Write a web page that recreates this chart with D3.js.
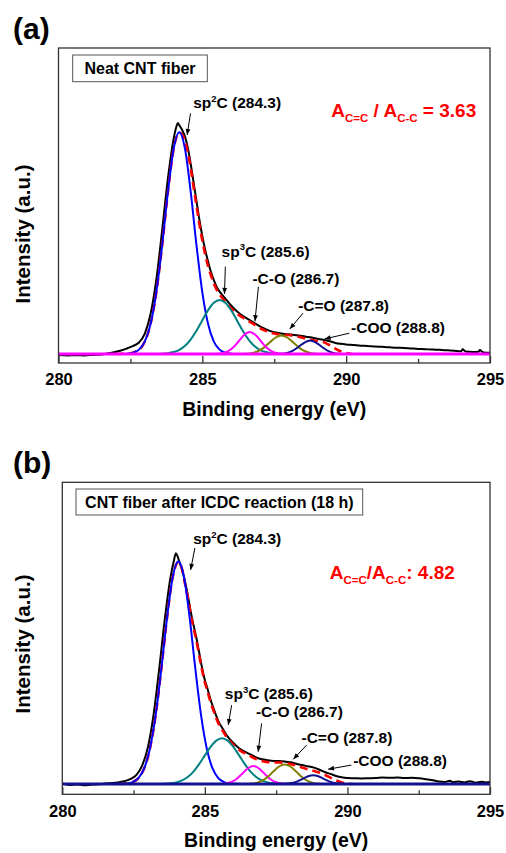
<!DOCTYPE html>
<html><head><meta charset="utf-8">
<script src="https://cdn.jsdelivr.net/npm/d3@7"></script>
<style>html,body{margin:0;padding:0;background:#fff;}svg{display:block;}</style>
</head><body>
<svg id="chart" width="506" height="853"></svg>
<script>
// ================= DATA =================
const xTickValues = [280, 285, 290, 295];
const xTickLabels = ["280", "285", "290", "295"];
const xMinorTicks = [282.5, 287.5, 292.5];
const xAxisTitle = "Binding energy (eV)";
const yAxisTitle = "Intensity (a.u.)";
const baselineE = [280, 295];

// ---------- panel (a): Neat CNT fiber ----------
const aTitle = "Neat CNT fiber";
const aRatio = [["A"], ["C=C", "sub"], [" / A"], ["C-C", "sub"], [" = 3.63"]];
const aMeasured = [[280.0,-0.004],[280.3,-0.006],[280.6,-0.005],[280.9,-0.006],[281.2,-0.004],[281.5,-0.002],[281.8,0.004],[282.0,0.01],[282.2,0.016],[282.4,0.025],[282.6,0.035],[282.8,0.05],[283.0,0.088],[283.2,0.173],[283.4,0.322],[283.6,0.532],[283.8,0.756],[284.0,0.93],[284.1,0.985],[284.15,1.0],[284.2,0.99],[284.3,0.97],[284.4,0.94],[284.5,0.89],[284.6,0.82],[284.7,0.74],[284.8,0.66],[284.9,0.58],[285.0,0.51],[285.1,0.45],[285.2,0.4],[285.3,0.355],[285.4,0.32],[285.5,0.29],[285.6,0.27],[285.8,0.24],[286.0,0.21],[286.2,0.185],[286.4,0.165],[286.6,0.15],[286.8,0.135],[287.0,0.12],[287.2,0.108],[287.4,0.098],[287.6,0.092],[287.8,0.088],[288.0,0.085],[288.2,0.082],[288.4,0.079],[288.6,0.075],[288.8,0.071],[289.0,0.066],[289.2,0.062],[289.4,0.056],[289.6,0.049],[289.8,0.044],[290.0,0.041],[290.25,0.039],[290.5,0.036],[290.75,0.035],[291.0,0.032],[291.25,0.031],[291.5,0.029],[291.75,0.027],[292.0,0.026],[292.25,0.024],[292.5,0.022],[292.75,0.021],[293.0,0.019],[293.25,0.018],[293.5,0.016],[293.75,0.014],[294.0,0.012],[294.05,0.02],[294.15,0.011],[294.4,0.009],[294.6,0.01],[294.65,0.017],[294.75,0.008],[295.0,0.005]];
const aFit = [[282.0,0],[282.4,0.0015],[282.8,0.019],[283.0,0.054],[283.2,0.13],[283.4,0.267],[283.6,0.467],[283.8,0.697],[284.0,0.886],[284.1,0.94],[284.2,0.958],[284.3,0.95],[284.4,0.92],[284.5,0.87],[284.6,0.8],[284.7,0.72],[284.8,0.64],[284.9,0.56],[285.0,0.49],[285.1,0.43],[285.2,0.38],[285.3,0.34],[285.4,0.305],[285.5,0.278],[285.6,0.258],[285.8,0.226],[286.0,0.198],[286.2,0.175],[286.4,0.158],[286.6,0.143],[286.8,0.128],[287.0,0.112],[287.2,0.1],[287.4,0.091],[287.6,0.086],[287.8,0.084],[288.0,0.082],[288.2,0.078],[288.4,0.073],[288.6,0.066],[288.8,0.06],[289.0,0.056],[289.2,0.052],[289.4,0.04],[289.6,0.025],[289.8,0.012],[290.0,0.004],[290.2,0]];
const aSp2C = [[282.0,0],[282.2,0.0003],[282.4,0.0015],[282.6,0.0057],[282.8,0.019],[283.0,0.0539],[283.2,0.1299],[283.4,0.2669],[283.6,0.4673],[283.8,0.6971],[284.0,0.8862],[284.2,0.96],[284.4,0.8862],[284.6,0.6971],[284.8,0.4673],[285.0,0.2669],[285.2,0.1299],[285.4,0.0539],[285.6,0.019],[285.8,0.0057],[286.0,0.0015],[286.2,0.0003],[286.4,0]];
const aSp3C = [[283.2,0],[283.4,0.0004],[283.6,0.0013],[283.8,0.0035],[284.0,0.0084],[284.2,0.0183],[284.4,0.036],[284.6,0.0637],[284.8,0.1018],[285.0,0.1465],[285.2,0.19],[285.4,0.2221],[285.6,0.234],[285.8,0.2221],[286.0,0.19],[286.2,0.1465],[286.4,0.1018],[286.6,0.0637],[286.8,0.036],[287.0,0.0183],[287.2,0.0084],[287.4,0.0035],[287.6,0.0013],[287.8,0.0004],[288.0,0]];
const aCO = [[285.25,0],[285.45,0.0005],[285.65,0.0025],[285.85,0.0092],[286.05,0.0255],[286.25,0.053],[286.45,0.0821],[286.65,0.095],[286.85,0.0821],[287.05,0.053],[287.25,0.0255],[287.45,0.0092],[287.65,0.0025],[287.85,0.0005],[288.05,0]];
const aCdO = [[286.15,0],[286.35,0.0003],[286.55,0.0014],[286.75,0.0047],[286.95,0.013],[287.15,0.0288],[287.35,0.0508],[287.55,0.0714],[287.75,0.08],[287.95,0.0714],[288.15,0.0508],[288.35,0.0288],[288.55,0.013],[288.75,0.0047],[288.95,0.0014],[289.15,0.0003],[289.35,0]];
const aCOO = [[287.35,0],[287.55,0.0002],[287.75,0.0012],[287.95,0.0049],[288.15,0.0145],[288.35,0.0313],[288.55,0.0497],[288.75,0.058],[288.95,0.0497],[289.15,0.0313],[289.35,0.0145],[289.55,0.0049],[289.75,0.0012],[289.95,0.0002],[290.15,0]];
// annotation text and the data points they refer to (energy, intensity)
const aNotes = [
  {parts: [["sp"], ["2", "sup"], ["C (284.3)"]], at: [284.68, 1.063], from: [284.59, 1.042], to: [284.47, 0.948]},
  {parts: [["sp"], ["3", "sup"], ["C (285.6)"]], at: [285.67, 0.42], from: [285.8, 0.378], to: [285.77, 0.26]},
  {parts: [["-C-O (286.7)"]], at: [286.74, 0.301], from: [286.95, 0.291], to: [286.83, 0.142]},
  {parts: [["-C=O (287.8)"]], at: [288.33, 0.188], from: [288.5, 0.177], to: [288.04, 0.108]},
  {parts: [["-COO (288.8)"]], at: [290.17, 0.091], from: [290.11, 0.09], to: [289.25, 0.065]}
];

// ---------- panel (b): CNT fiber after ICDC reaction ----------
const bTitle = "CNT fiber after ICDC reaction (18 h)";
const bRatio = [["A"], ["C=C", "sub"], ["/A"], ["C-C", "sub"], [": 4.82"]];
const bMeasured = [[280.0,0.003],[280.25,-0.004],[280.5,-0.002],[280.75,-0.005],[281.0,-0.003],[281.25,-0.001],[281.5,0.002],[281.75,0.004],[282.0,0.008],[282.2,0.013],[282.4,0.022],[282.6,0.04],[282.8,0.08],[283.0,0.158],[283.2,0.3],[283.4,0.5],[283.6,0.72],[283.8,0.9],[283.9,0.96],[283.985,1.0],[284.05,0.985],[284.1,0.965],[284.2,0.93],[284.3,0.88],[284.4,0.82],[284.5,0.75],[284.6,0.69],[284.7,0.635],[284.8,0.57],[284.9,0.505],[285.0,0.45],[285.1,0.41],[285.2,0.365],[285.3,0.33],[285.4,0.295],[285.5,0.265],[285.6,0.245],[285.8,0.205],[286.0,0.178],[286.2,0.155],[286.4,0.14],[286.6,0.128],[286.8,0.115],[287.0,0.107],[287.2,0.103],[287.4,0.1],[287.6,0.1],[287.8,0.098],[288.0,0.094],[288.2,0.088],[288.4,0.082],[288.6,0.077],[288.8,0.072],[289.0,0.063],[289.2,0.052],[289.4,0.044],[289.6,0.035],[289.8,0.029],[290.0,0.026],[290.25,0.025],[290.5,0.024],[290.75,0.025],[291.0,0.026],[291.25,0.028],[291.5,0.027],[291.75,0.028],[292.0,0.026],[292.25,0.027],[292.5,0.025],[292.75,0.021],[293.0,0.016],[293.2,0.011],[293.4,0.009],[293.6,0.014],[293.7,0.008],[293.9,0.011],[294.1,0.007],[294.3,0.012],[294.5,0.006],[294.7,0.01],[294.85,0.007],[295.0,0.009]];
const bFit = [[282.0,0],[282.47,0.0085],[282.87,0.0673],[283.07,0.1517],[283.27,0.2952],[283.47,0.4954],[283.67,0.7171],[283.87,0.8953],[284.07,0.962],[284.2,0.93],[284.3,0.87],[284.4,0.81],[284.5,0.738],[284.6,0.677],[284.7,0.622],[284.8,0.558],[284.9,0.494],[285.0,0.44],[285.1,0.398],[285.2,0.354],[285.3,0.319],[285.4,0.285],[285.5,0.256],[285.6,0.236],[285.8,0.197],[286.0,0.17],[286.2,0.148],[286.4,0.133],[286.6,0.12],[286.8,0.108],[287.0,0.1],[287.2,0.095],[287.4,0.093],[287.6,0.093],[287.8,0.092],[288.0,0.087],[288.2,0.08],[288.4,0.072],[288.6,0.064],[288.8,0.058],[289.0,0.05],[289.2,0.04],[289.4,0.028],[289.6,0.016],[289.8,0.007],[290.0,0.002],[290.2,0]];
const bSp2C = [[281.87,0],[282.07,0.0006],[282.27,0.0024],[282.47,0.0085],[282.67,0.0257],[282.87,0.0673],[283.07,0.1517],[283.27,0.2952],[283.47,0.4954],[283.67,0.7171],[283.87,0.8953],[284.07,0.964],[284.27,0.8953],[284.47,0.7171],[284.67,0.4954],[284.87,0.2952],[285.07,0.1517],[285.27,0.0673],[285.47,0.0257],[285.67,0.0085],[285.87,0.0024],[286.07,0.0006],[286.27,0]];
const bSp3C = [[283.2,0],[283.4,0.0004],[283.6,0.0011],[283.8,0.0029],[284.0,0.0071],[284.2,0.0155],[284.4,0.0304],[284.6,0.0539],[284.8,0.0861],[285.0,0.124],[285.2,0.1608],[285.4,0.188],[285.6,0.198],[285.8,0.188],[286.0,0.1608],[286.2,0.124],[286.4,0.0861],[286.6,0.0539],[286.8,0.0304],[287.0,0.0155],[287.2,0.0071],[287.4,0.0029],[287.6,0.0011],[287.8,0.0004],[288.0,0]];
const bCO = [[285.3,0],[285.5,0.0004],[285.7,0.002],[285.9,0.0075],[286.1,0.0209],[286.3,0.0435],[286.5,0.0674],[286.7,0.078],[286.9,0.0674],[287.1,0.0435],[287.3,0.0209],[287.5,0.0075],[287.7,0.002],[287.9,0.0004],[288.1,0]];
const bCdO = [[286.2,0],[286.4,0.0003],[286.6,0.0014],[286.8,0.005],[287.0,0.0139],[287.2,0.0306],[287.4,0.054],[287.6,0.0759],[287.8,0.085],[288.0,0.0759],[288.2,0.054],[288.4,0.0306],[288.6,0.0139],[288.8,0.005],[289.0,0.0014],[289.2,0.0003],[289.4,0]];
const bCOO = [[287.4,0],[287.6,0.0001],[287.8,0.0008],[288.0,0.0032],[288.2,0.0095],[288.4,0.0205],[288.6,0.0326],[288.8,0.038],[289.0,0.0326],[289.2,0.0205],[289.4,0.0095],[289.6,0.0032],[289.8,0.0008],[290.0,0.0001],[290.2,0]];
const bNotes = [
  {parts: [["sp"], ["2", "sup"], ["C (284.3)"]], at: [284.59, 1.04], from: [284.65, 1.023], to: [284.5, 0.928]},
  {parts: [["sp"], ["3", "sup"], ["C (285.6)"]], at: [285.7, 0.368], from: [285.94, 0.342], to: [285.82, 0.256]},
  {parts: [["-C-O (286.7)"]], at: [286.79, 0.29], from: [286.99, 0.263], to: [286.87, 0.14]},
  {parts: [["-C=O (287.8)"]], at: [288.39, 0.178], from: [288.57, 0.169], to: [288.1, 0.107]},
  {parts: [["-COO (288.8)"]], at: [290.2, 0.08], from: [290.14, 0.082], to: [289.32, 0.064]}
];

// ================= STYLE / LAYOUT =================
const C = {black: "#000000", red: "#ff0000", blue: "#0000ff", teal: "#008080",
           magenta: "#ff00ff", olive: "#808000", navy: "#101090", frame: "#333333"};
const FONT = "'Liberation Sans', Arial, Helvetica, sans-serif";

const panels = [
  {letter: "(a)", letterXY: [13, 38.5], yTitleY: 234,
   frame: {l: 58.5, t: 48, r: 490, b: 363}, yDomain: [-0.039, 1.3247],
   box: {x: 72.7, y: 55, w: 134.6, h: 26.7, ty: 74.3, size: 16},
   title: aTitle, ratio: aRatio, ratioAt: [289.48, 1.025],
   measured: aMeasured, fit: aFit, notes: aNotes,
   comps: [[aSp2C, C.blue], [aSp3C, C.teal], [aCdO, C.olive], [aCOO, C.navy], [aCO, C.magenta]],
   baseColor: C.magenta},
  {letter: "(b)", letterXY: [13, 473], yTitleY: 644,
   frame: {l: 62.3, t: 482.3, r: 490, b: 794.3}, yDomain: [-0.0446, 1.3078],
   box: {x: 76, y: 489, w: 286.7, h: 26, ty: 508.2, size: 16},
   title: bTitle, ratio: bRatio, ratioAt: [289.38, 0.889],
   measured: bMeasured, fit: bFit, notes: bNotes,
   comps: [[bSp2C, C.blue], [bSp3C, C.teal], [bCO, C.magenta], [bCdO, C.olive], [bCOO, C.navy]],
   baseColor: C.navy}
];

const svg = d3.select("#chart").style("font-family", FONT);
svg.append("defs").append("marker")
  .attr("id", "arrowhead").attr("viewBox", "0 0 10 10")
  .attr("refX", 10).attr("refY", 5)
  .attr("markerWidth", 7).attr("markerHeight", 6)
  .attr("markerUnits", "userSpaceOnUse").attr("orient", "auto")
  .append("path").attr("d", "M0,1 L10,5 L0,9 Z").attr("fill", "#000");

function rich(textSel, parts, base, subSize, supSize) {
  let shift = 0;
  parts.forEach(p => {
    const kind = p[1];
    let target = 0, size = base;
    if (kind === "sub") { target = subSize * 0.45; size = subSize; }
    if (kind === "sup") { target = -base * 0.42; size = supSize; }
    textSel.append("tspan").attr("dy", target - shift).attr("font-size", size).text(p[0]);
    shift = target;
  });
}

panels.forEach((P, pi) => {
  const f = P.frame;
  const x = d3.scaleLinear().domain([280, 295]).range([f.l, f.r]);
  const y = d3.scaleLinear().domain(P.yDomain).range([f.b, f.t]);
  const g = svg.append("g");

  const clipId = "clip" + pi;
  svg.select("defs").append("clipPath").attr("id", clipId)
    .append("rect").attr("x", f.l).attr("y", f.t).attr("width", f.r - f.l).attr("height", f.b - f.t);
  const plot = g.append("g").attr("clip-path", `url(#${clipId})`);

  const line = d3.line().x(d => x(d[0])).y(d => y(d[1])).curve(d3.curveMonotoneX);

  plot.append("path").datum(P.measured).attr("d", line)
    .attr("fill", "none").attr("stroke", C.black).attr("stroke-width", 2).attr("stroke-linejoin", "round");
  plot.append("path").datum(P.fit).attr("d", line)
    .attr("fill", "none").attr("stroke", C.red).attr("stroke-width", 2.6).attr("stroke-dasharray", "8,5");
  P.comps.forEach(([pts, col]) => {
    plot.append("path").datum(pts).attr("d", line)
      .attr("fill", "none").attr("stroke", col).attr("stroke-width", 2);
  });
  plot.append("path").datum(baselineE.map(e => [e, 0])).attr("d", d3.line().x(d => x(d[0])).y(d => y(d[1])))
    .attr("fill", "none").attr("stroke", P.baseColor).attr("stroke-width", 3);

  g.append("rect").attr("x", f.l).attr("y", f.t).attr("width", f.r - f.l).attr("height", f.b - f.t)
    .attr("fill", "none").attr("stroke", C.frame).attr("stroke-width", 1.3);

  const ax = g.append("g").attr("transform", `translate(0,${f.b})`)
    .call(d3.axisBottom(x).tickValues(xTickValues).tickSize(-7).tickPadding(10.5)
      .tickFormat((d, i) => xTickLabels[i]));
  ax.select(".domain").remove();
  ax.selectAll(".tick line").attr("stroke", C.frame).attr("stroke-width", 1.3);
  ax.selectAll(".tick text").attr("font-family", FONT).attr("font-size", 16.5)
    .attr("font-weight", "bold").attr("fill", "#000");
  const axm = g.append("g").attr("transform", `translate(0,${f.b})`)
    .call(d3.axisBottom(x).tickValues(xMinorTicks).tickSize(-4).tickFormat(""));
  axm.select(".domain").remove();
  axm.selectAll(".tick line").attr("stroke", C.frame).attr("stroke-width", 1.3);

  g.append("text").attr("x", (f.l + f.r) / 2).attr("y", f.b + 53).attr("text-anchor", "middle")
    .attr("font-size", 19.5).attr("font-weight", "bold").text(xAxisTitle);
  g.append("text").attr("transform", `translate(30,${P.yTitleY}) rotate(-90)`)
    .attr("text-anchor", "middle").attr("font-size", 20.5).attr("font-weight", "bold").text(yAxisTitle);

  g.append("text").attr("x", P.letterXY[0]).attr("y", P.letterXY[1])
    .attr("font-size", 30).attr("font-weight", "bold").text(P.letter);

  g.append("rect").attr("x", P.box.x).attr("y", P.box.y).attr("width", P.box.w).attr("height", P.box.h)
    .attr("fill", "#fff").attr("stroke", "#555").attr("stroke-width", 1);
  g.append("text").attr("x", P.box.x + P.box.w / 2).attr("y", P.box.ty).attr("text-anchor", "middle")
    .attr("font-size", P.box.size).attr("font-weight", "bold").text(P.title);

  const rt = g.append("text").attr("x", x(P.ratioAt[0])).attr("y", y(P.ratioAt[1]))
    .attr("font-weight", "bold").attr("fill", C.red);
  rich(rt, P.ratio, 19, 11.5, 11.5);

  P.notes.forEach(n => {
    g.append("line").attr("x1", x(n.from[0])).attr("y1", y(n.from[1]))
      .attr("x2", x(n.to[0])).attr("y2", y(n.to[1]))
      .attr("stroke", "#000").attr("stroke-width", 1).attr("marker-end", "url(#arrowhead)");
    const t = g.append("text").attr("x", x(n.at[0])).attr("y", y(n.at[1]))
      .attr("font-weight", "bold").attr("fill", "#000");
    rich(t, n.parts, 15.5, 10, 9.5);
  });
});
</script>
</body></html>
